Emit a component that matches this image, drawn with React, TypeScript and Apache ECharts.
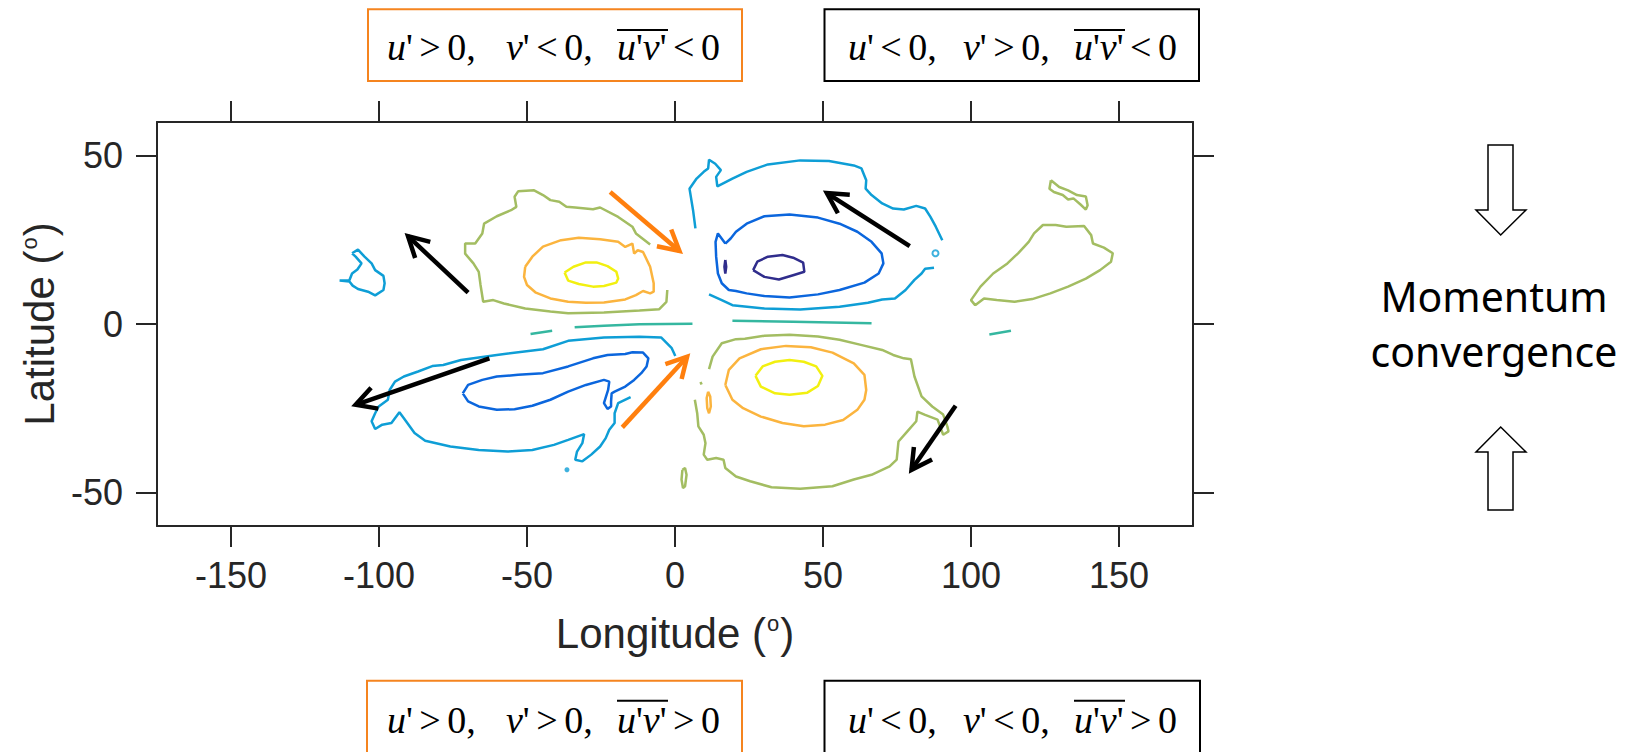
import React, { useEffect, useRef } from "react";
import * as echarts from "echarts";

// ---------- axes ----------
const xRange = [-175, 175];
const yRange = [-60, 60];
const xTicks = [-150, -100, -50, 0, 50, 100, 150];
const yTicks = [-50, 0, 50];

// ---------- contour colours (parula levels) ----------
const cNavy = "#302D8C";
const cBlue = "#0B66DD";
const cCyan = "#0E9ED6";
const cTeal = "#35B7A0";
const cGreen = "#A3BD62";
const cOrange = "#FBB43E";
const cYellow = "#F2F010";

// ---------- contours [lon, lat] ----------
const cyanWestBlob = [[-109.1,21.0],[-107.1,22.1],[-104.9,20.0],[-102.5,18.0],[-101.3,16.0],[-98.5,14.3],[-98.1,12.1],[-98.5,10.1],[-101.3,8.5],[-103.7,9.6],[-107.1,10.4],[-108.9,11.4],[-110.0,12.6],[-113.3,12.9],[-110.0,13.0],[-109.1,15.0],[-107.3,16.2],[-105.9,18.0],[-107.9,20.0],[-109.1,21.0]];
const greenNW = [[-8.4,23.6],[-13.2,26.9],[-14.4,28.9],[-19.2,31.8],[-25.3,34.6],[-27.7,34.1],[-33.7,34.6],[-36.7,34.8],[-39.1,36.3],[-42.1,36.8],[-44.6,38.3],[-47.6,39.7],[-53.0,39.4],[-54.2,37.8],[-53.6,34.8],[-55.4,33.8],[-60.2,32.0],[-64.5,29.8],[-65.1,26.9],[-67.5,23.9],[-70.9,23.9],[-70.9,20.9],[-68.1,18.0],[-66.3,15.5],[-65.7,11.6],[-64.8,6.6],[-61.4,7.1],[-57.8,6.1],[-50.6,4.6],[-42.1,3.7],[-36.1,3.2],[-24.0,3.4],[-12.0,4.0],[-5.3,4.4],[-2.9,6.6],[-2.6,10.1]];
const orangeNW = [[-50.6,17.0],[-48.2,20.0],[-44.6,23.0],[-38.5,24.9],[-32.5,25.6],[-25.3,25.2],[-19.2,24.4],[-16.8,22.9],[-14.4,23.9],[-13.8,20.9],[-12.6,21.9],[-10.8,21.4],[-8.4,17.0],[-7.2,12.1],[-7.2,9.6],[-8.4,9.1],[-10.8,9.8],[-13.2,8.6],[-16.8,7.3],[-24.0,6.4],[-30.1,6.3],[-36.1,6.6],[-42.1,7.6],[-47.0,9.3],[-50.0,11.6],[-51.0,14.0],[-50.6,17.0]];
const yellowNW = [[-37.3,15.3],[-34.3,17.0],[-30.1,18.3],[-26.5,18.3],[-22.8,17.2],[-19.8,15.5],[-19.2,13.5],[-19.8,12.3],[-24.0,11.3],[-27.7,11.1],[-32.5,11.9],[-36.1,12.9],[-37.3,15.3]];
const tealW1 = [[-48.8,-3.0],[-41.5,-2.0]];
const tealW2 = [[-33.9,-1.0],[-24.0,-0.5],[-12.0,-0.1],[5.9,0.1]];
const tealE1 = [[19.4,1.0],[39.9,0.7],[66.4,0.2]];
const tealE2 = [[106.2,-3.1],[113.5,-2.0]];
const cyanSW = [[0.1,-9.5],[-1.1,-7.2],[-4.7,-4.0],[-12.0,-3.8],[-24.0,-4.0],[-36.1,-5.0],[-44.6,-7.5],[-60.2,-9.2],[-72.3,-10.7],[-78.3,-12.2],[-82.0,-12.5],[-86.8,-14.1],[-91.6,-15.6],[-94.6,-17.1],[-96.4,-19.6],[-97.0,-22.5],[-100.1,-24.5],[-101.3,-26.5],[-102.5,-28.9],[-101.3,-31.2],[-98.9,-29.9],[-95.8,-29.4],[-93.1,-26.2],[-91.6,-28.0],[-88.0,-32.4],[-84.4,-34.7],[-75.9,-36.4],[-66.3,-37.4],[-56.6,-37.9],[-48.2,-37.4],[-40.9,-35.9],[-36.1,-34.4],[-30.7,-32.7],[-31.3,-35.4],[-33.1,-37.9],[-33.7,-40.3],[-31.3,-40.8],[-28.3,-38.8],[-25.3,-36.4],[-23.4,-33.9],[-22.2,-31.4],[-20.4,-29.4],[-20.4,-26.5],[-19.2,-23.5],[-15.0,-21.7]];
const blueSW = [[-71.7,-20.6],[-69.9,-18.1],[-65.1,-16.6],[-60.2,-15.6],[-53.0,-15.1],[-44.6,-14.6],[-36.1,-12.6],[-27.7,-10.2],[-22.8,-9.2],[-16.8,-8.9],[-14.4,-8.4],[-10.8,-8.5],[-9.0,-10.2],[-9.6,-12.6],[-11.4,-14.6],[-13.8,-16.6],[-16.8,-18.6],[-20.4,-20.1],[-21.4,-20.6],[-21.6,-23.0],[-21.6,-24.5],[-22.8,-25.2],[-24.0,-23.5],[-22.6,-19.6],[-22.2,-17.1],[-24.0,-16.6],[-30.1,-18.1],[-36.1,-20.1],[-42.1,-22.5],[-48.2,-24.3],[-54.2,-25.3],[-60.2,-25.5],[-66.3,-24.5],[-69.9,-23.0],[-71.7,-20.6]];
const greenSmallS = [[2.5,-43.3],[3.4,-42.8],[3.9,-44.8],[3.4,-48.2],[2.7,-48.7],[2.2,-46.2],[2.5,-43.3]];
const greenTickS = [[8.6,-17.2],[9.0,-18.0]];
const cyanNEtop = [[6.9,28.4],[6.1,33.8],[4.9,40.2],[7.3,43.2],[9.7,45.2],[11.2,46.2],[11.5,48.8],[13.6,47.6],[15.5,45.7],[13.9,43.7],[14.3,40.9],[19.4,43.2],[24.2,45.2],[31.4,47.4],[42.3,48.6],[52.0,48.4],[60.4,47.1],[63.0,46.2],[64.6,42.7],[64.4,40.2],[66.4,38.3],[70.0,35.8],[73.7,34.3],[77.3,34.0],[81.5,35.1],[84.5,34.3],[86.3,31.8],[88.1,28.9],[90.3,24.9]];
const cyanNEbottom = [[87.5,16.7],[84.5,16.4],[83.3,15.0],[80.9,13.1],[77.9,10.1],[74.3,7.6],[70.0,7.3],[65.2,6.3],[55.6,5.1],[42.3,4.3],[30.2,4.6],[19.4,5.6],[15.8,7.1],[11.5,8.8]];
const blueNE = [[17.0,23.9],[14.5,26.9],[13.7,24.4],[13.9,20.0],[14.5,15.0],[15.8,12.1],[18.2,10.1],[20.6,9.8],[24.2,9.1],[30.2,8.3],[38.7,7.9],[48.3,8.8],[55.6,10.1],[64.0,12.3],[68.8,15.0],[70.4,18.0],[69.8,21.0],[66.4,24.4],[61.6,27.4],[55.6,29.8],[48.3,31.6],[38.7,32.5],[30.2,32.0],[24.2,29.8],[20.6,27.4],[18.8,25.4],[17.0,23.9]];
const navyNE = [[26.4,16.0],[27.8,18.5],[31.4,20.0],[36.3,20.5],[39.9,19.7],[43.3,18.2],[43.7,15.5],[39.9,14.5],[35.1,13.2],[30.2,14.0],[26.4,16.0]];
const navySliver = [[17.0,19.0],[17.3,17.0],[17.0,15.0],[16.7,17.0],[17.0,19.0]];
const greenEast = [[101.4,5.6],[100.0,7.1],[103.2,11.1],[107.5,15.0],[112.3,18.0],[115.9,21.0],[119.5,24.4],[121.3,26.9],[124.3,29.4],[128.6,29.4],[132.2,28.9],[138.2,29.1],[140.6,26.4],[141.2,23.9],[144.9,22.7],[147.9,21.0],[147.3,18.5],[143.6,16.0],[138.8,13.5],[132.8,11.1],[126.8,9.1],[120.7,7.4],[114.7,6.6],[108.7,7.1],[104.4,7.6],[101.4,5.6]];
const greenEastBlob = [[127.0,42.7],[126.5,40.2],[128.0,39.2],[131.0,38.3],[132.8,37.0],[134.6,37.3],[137.0,35.5],[138.8,34.0],[139.4,35.3],[138.8,37.9],[135.8,38.3],[132.8,39.7],[129.8,40.7],[127.0,42.7]];
const greenSE = [[11.5,-13.4],[12.7,-9.7],[15.8,-5.7],[20.6,-4.5],[23.6,-4.4],[30.2,-3.5],[38.7,-3.2],[48.3,-3.7],[55.6,-4.7],[62.8,-6.2],[70.0,-7.7],[73.7,-9.2],[77.3,-10.2],[79.7,-10.5],[80.9,-15.6],[83.3,-21.5],[86.9,-24.5],[90.6,-26.9],[92.0,-30.4],[92.4,-31.9],[90.6,-32.9],[88.7,-28.4],[84.5,-27.0],[81.9,-26.0],[81.5,-28.9],[78.5,-31.9],[75.5,-34.9],[74.9,-40.3],[72.5,-42.3],[66.4,-44.8],[60.4,-46.2],[53.2,-48.2],[42.3,-48.9],[32.6,-48.5],[25.4,-46.7],[20.6,-45.3],[17.0,-42.8],[16.4,-40.3],[13.9,-39.8],[10.9,-40.3],[9.7,-38.8],[10.3,-35.4],[9.7,-32.9],[7.9,-30.4],[7.5,-26.5],[6.7,-22.5]];
const orangeSliverS = [[11.2,-20.1],[11.9,-21.5],[12.1,-24.5],[11.5,-26.5],[10.9,-25.0],[10.7,-22.0],[11.2,-20.1]];
const orangeSE = [[17.0,-18.1],[18.2,-13.6],[21.8,-10.2],[29.0,-7.5],[37.5,-6.5],[45.9,-6.9],[53.2,-8.5],[60.4,-11.7],[64.0,-15.1],[64.6,-19.6],[64.0,-22.5],[61.6,-25.5],[56.8,-28.5],[50.7,-29.9],[43.5,-30.4],[36.3,-29.4],[29.0,-27.5],[23.0,-25.0],[19.4,-22.5],[17.0,-18.1]];
const yellowSE = [[27.2,-15.4],[29.6,-12.6],[33.8,-11.2],[38.7,-10.7],[43.5,-11.2],[47.7,-12.6],[49.8,-15.4],[48.3,-18.4],[44.7,-20.4],[38.7,-21.0],[33.8,-20.6],[29.0,-18.6],[27.2,-15.4]];
const cyanDots = [[-36.5,-43.3]];
const cyanRings = [[88.0,21.0]];

// ---------- arrows [tailLon, tailLat, tipLon, tipLat] ----------
const blackArrows = [[-69.9,9.3,-90.2,26.1],[-62.7,-10.2,-107.9,-24.0],[79.3,23.1,51.3,38.9],[94.8,-24.3,79.9,-43.3]];
const orangeArrows = [[-21.9,39.2,1.5,21.7],[-17.8,-30.7,4.1,-9.7]];

// ---------- annotation text ----------
const boxTopLeft = ["u'>0,", "v'<0,", "u'v'<0"];
const boxTopRight = ["u'<0,", "v'>0,", "u'v'<0"];
const boxBottomLeft = ["u'>0,", "v'>0,", "u'v'>0"];
const boxBottomRight = ["u'<0,", "v'<0,", "u'v'>0"];
const sideText = ["Momentum", "convergence"];

const ORANGE = "#FF7F0E";
const AXIS = "#262626";

function toRich(s: string): string {
  let out = "";
  for (const ch of s) {
    if (ch === "u" || ch === "v") out += "{i|" + ch + "}";
    else if (ch === ">" || ch === "<") out += "{s| }" + ch + "{s| }";
    else out += ch;
  }
  return out;
}

function boxGraphics(x0: number, x1: number, yTop: number, yBot: number, stroke: string, terms: string[], xs: number[], baseline: number, overY: number, overX: number[]) {
  const els: any[] = [];
  els.push({ type: "rect", shape: { x: x0, y: yTop, width: x1 - x0, height: yBot - yTop }, style: { fill: "#fff", stroke, lineWidth: 2 }, z: 10 });
  terms.forEach((t, i) => {
    els.push({
      type: "text", x: xs[i], y: baseline + 6, z: 11,
      style: {
        text: toRich(t), fill: "#000", fontFamily: "Liberation Serif", fontSize: 38, lineHeight: 38,
        align: "left", verticalAlign: "bottom",
        rich: { i: { fontStyle: "italic", fontFamily: "Liberation Serif", fontSize: 38, lineHeight: 38 }, s: { fontSize: 26, fontFamily: "Liberation Serif", lineHeight: 38 } },
      },
    });
  });
  els.push({ type: "line", shape: { x1: overX[0], y1: overY, x2: overX[1], y2: overY }, style: { stroke: "#000", lineWidth: 2 }, z: 11 });
  return els;
}

function arrowRender(color: string) {
  return (params: any, api: any) => {
    const a = api.coord([api.value(0), api.value(1)]);
    const b = api.coord([api.value(2), api.value(3)]);
    const ang = Math.atan2(b[1] - a[1], b[0] - a[0]);
    const L = 23, w = 0.5;
    const p1 = [b[0] - L * Math.cos(ang - w), b[1] - L * Math.sin(ang - w)];
    const p2 = [b[0] - L * Math.cos(ang + w), b[1] - L * Math.sin(ang + w)];
    return {
      type: "group",
      children: [
        { type: "line", shape: { x1: a[0], y1: a[1], x2: b[0], y2: b[1] }, style: { stroke: color, lineWidth: 4.5 } },
        { type: "polyline", shape: { points: [p1, b, p2] }, style: { stroke: color, lineWidth: 4.5, fill: "none", lineJoin: "miter" } },
      ],
    };
  };
}

const contours: [string, number[][], string][] = [
  ["cyanWestBlob", cyanWestBlob, cCyan],
  ["greenNW", greenNW, cGreen],
  ["orangeNW", orangeNW, cOrange],
  ["yellowNW", yellowNW, cYellow],
  ["tealW1", tealW1, cTeal],
  ["tealW2", tealW2, cTeal],
  ["tealE1", tealE1, cTeal],
  ["tealE2", tealE2, cTeal],
  ["cyanSW", cyanSW, cCyan],
  ["blueSW", blueSW, cBlue],
  ["greenSmallS", greenSmallS, cGreen],
  ["greenTickS", greenTickS, cGreen],
  ["cyanNEtop", cyanNEtop, cCyan],
  ["cyanNEbottom", cyanNEbottom, cCyan],
  ["blueNE", blueNE, cBlue],
  ["navyNE", navyNE, cNavy],
  ["navySliver", navySliver, cNavy],
  ["greenEast", greenEast, cGreen],
  ["greenEastBlob", greenEastBlob, cGreen],
  ["greenSE", greenSE, cGreen],
  ["orangeSliverS", orangeSliverS, cOrange],
  ["orangeSE", orangeSE, cOrange],
  ["yellowSE", yellowSE, cYellow],
];

export default function App() {
  const ref = useRef<HTMLDivElement>(null);
  useEffect(() => {
    if (!ref.current) return;
    const chart = echarts.init(ref.current, null, { renderer: "svg" });
    const tickLabel = { fontSize: 36, color: AXIS, fontFamily: "Liberation Sans" };
    const nameStyle = {
      fontSize: 42, color: AXIS, fontFamily: "Liberation Sans", lineHeight: 42,
      rich: { sup: { fontSize: 22, color: AXIS, fontFamily: "Liberation Sans", verticalAlign: "top", lineHeight: 42, padding: [0, 1, 18, 1] } },
    };
    const axisLine = { show: true, onZero: false, lineStyle: { color: AXIS, width: 2 } };
    const ticksX = { show: true, length: 21, lineStyle: { color: AXIS, width: 2 }, customValues: xTicks };
    const ticksY = { show: true, length: 21, lineStyle: { color: AXIS, width: 2 }, customValues: yTicks };

    const series: any[] = contours.map(([name, pts, color]) => ({
      name, type: "line", data: pts, showSymbol: false, symbol: "none", silent: true,
      lineStyle: { color, width: 2.5 }, z: 2,
    }));
    series.push({ name: "cyanDots", type: "scatter", data: cyanDots, symbolSize: 5, itemStyle: { color: cCyan }, silent: true });
    series.push({ name: "cyanRings", type: "scatter", data: cyanRings, symbol: "emptyCircle", symbolSize: 6, itemStyle: { color: cCyan, borderWidth: 2 }, silent: true });
    series.push({ name: "blackArrows", type: "custom", data: blackArrows, encode: { x: [0, 2], y: [1, 3] }, renderItem: arrowRender("#000"), z: 5, silent: true });
    series.push({ name: "orangeArrows", type: "custom", data: orangeArrows, encode: { x: [0, 2], y: [1, 3] }, renderItem: arrowRender(ORANGE), z: 5, silent: true });

    const graphics: any[] = [
      ...boxGraphics(368, 742, 9.3, 81, "#F5841F", boxTopLeft, [387, 506, 617], 60, 30, [617, 668]),
      ...boxGraphics(824.5, 1199, 9.3, 81, "#000", boxTopRight, [848, 963, 1074], 60, 30, [1074, 1125]),
      ...boxGraphics(367, 742, 680.7, 770, "#F5841F", boxBottomLeft, [387, 506, 617], 733, 700.7, [617, 668]),
      ...boxGraphics(824.5, 1200, 680.7, 770, "#000", boxBottomRight, [848, 963, 1074], 733, 700.7, [1074, 1125]),
      {
        type: "text", x: 1494, y: 316, z: 11,
        style: { text: sideText[0], fill: "#000", fontFamily: "Noto Sans", fontSize: 41, align: "center", verticalAlign: "bottom" },
      },
      {
        type: "text", x: 1494, y: 371, z: 11,
        style: { text: sideText[1], fill: "#000", fontFamily: "Noto Sans", fontSize: 41, align: "center", verticalAlign: "bottom" },
      },
      {
        type: "polygon", z: 11,
        shape: { points: [[1488, 145], [1513, 145], [1513, 210], [1526, 210], [1500.7, 235], [1476, 210], [1488, 210]] },
        style: { fill: "#fff", stroke: "#000", lineWidth: 1.5 },
      },
      {
        type: "polygon", z: 11,
        shape: { points: [[1488, 510], [1513, 510], [1513, 452], [1526, 452], [1500.7, 427], [1476, 452], [1488, 452]] },
        style: { fill: "#fff", stroke: "#000", lineWidth: 1.5 },
      },
    ];

    chart.setOption({
      animation: false,
      backgroundColor: "#fff",
      grid: { left: 157, top: 122, right: 1626 - 1193, bottom: 752 - 526, containLabel: false, outerBoundsMode: "none" },
      xAxis: [
        {
          type: "value", min: xRange[0], max: xRange[1], position: "bottom",
          axisLine, axisTick: ticksX, splitLine: { show: false },
          axisLabel: { ...tickLabel, margin: 31, customValues: xTicks },
          name: "Longitude ({sup|o})", nameLocation: "middle", nameGap: 86, nameTextStyle: nameStyle,
        },
        {
          type: "value", min: xRange[0], max: xRange[1], position: "top",
          axisLine, axisTick: ticksX, splitLine: { show: false }, axisLabel: { show: false },
        },
      ],
      yAxis: [
        {
          type: "value", min: yRange[0], max: yRange[1], position: "left",
          axisLine, axisTick: ticksY, splitLine: { show: false },
          axisLabel: { ...tickLabel, margin: 34, customValues: yTicks },
          name: "Latitude ({sup|o})", nameLocation: "middle", nameGap: 97, nameRotate: 90, nameTextStyle: nameStyle,
        },
        {
          type: "value", min: yRange[0], max: yRange[1], position: "right",
          axisLine, axisTick: ticksY, splitLine: { show: false }, axisLabel: { show: false },
        },
      ],
      series,
      graphic: graphics,
    });
    return () => chart.dispose();
  }, []);
  return <div ref={ref} style={{ position: "absolute", left: 0, top: 0, width: 1626, height: 752, background: "#fff" }} />;
}
